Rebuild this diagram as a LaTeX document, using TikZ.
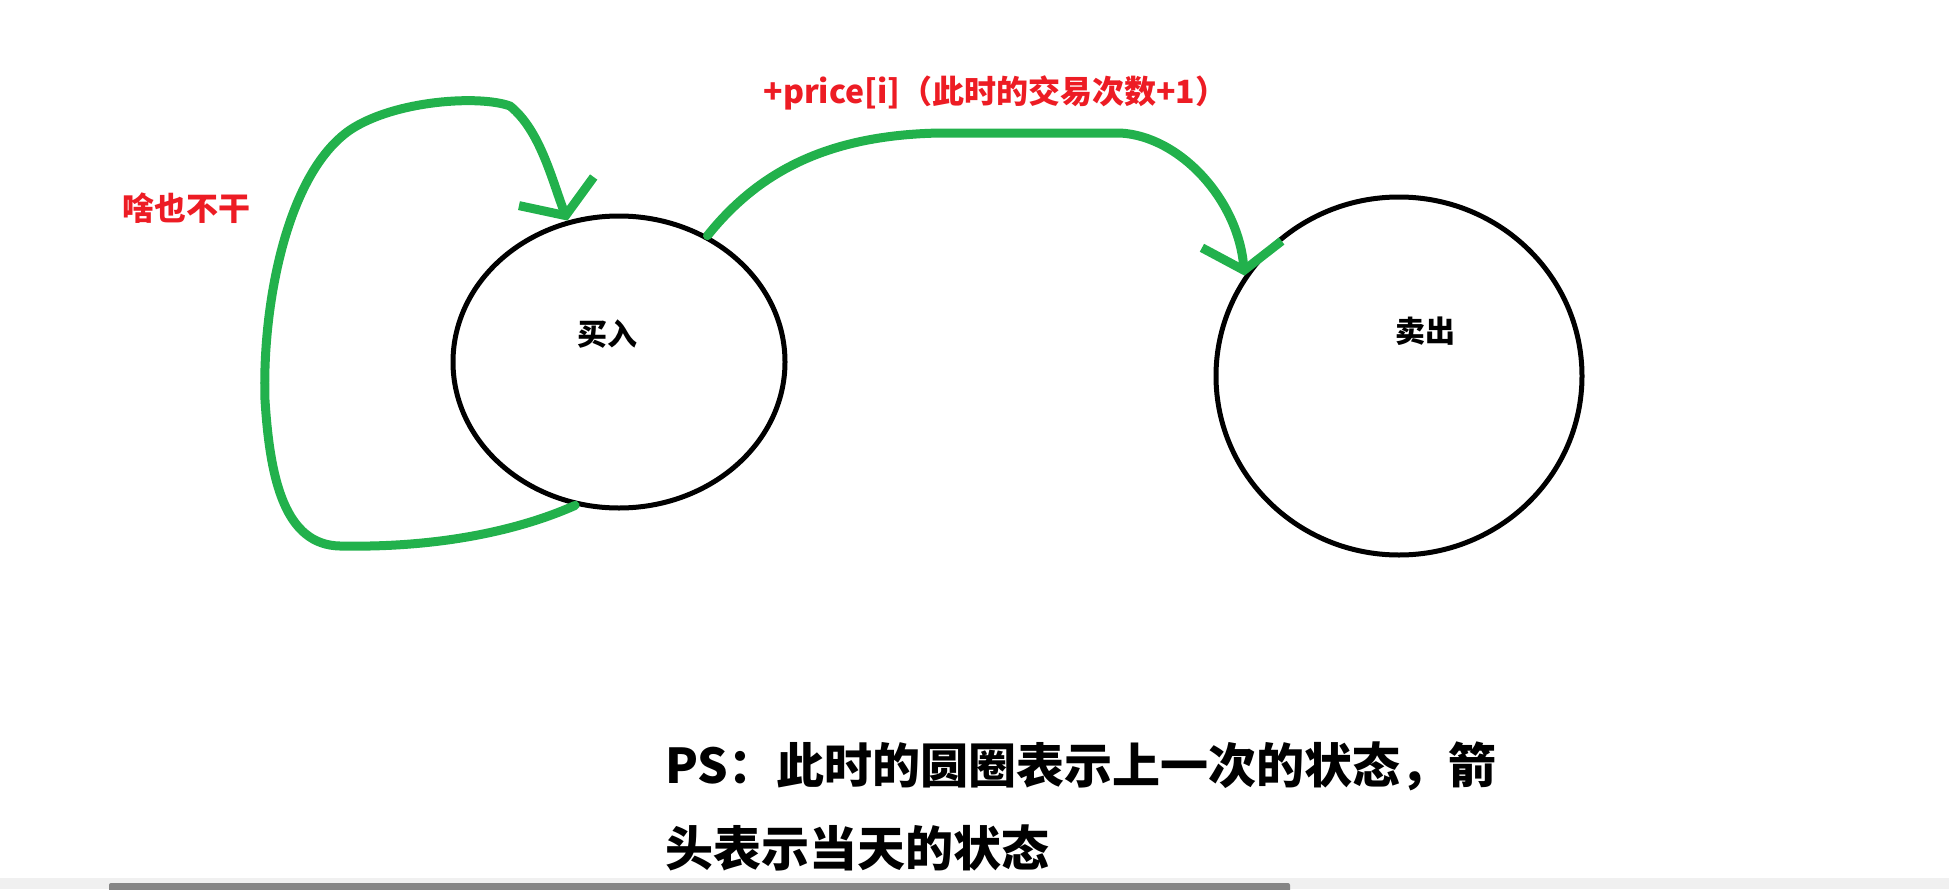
\documentclass[tikz,border=0pt]{standalone}
\usepackage{fontspec}
\usetikzlibrary{shapes.geometric,arrows.meta}
\newfontfamily\cjk{Noto Sans CJK SC}
\definecolor{paintgreen}{RGB}{34,177,76}
\definecolor{paintred}{RGB}{237,28,36}
\definecolor{barfill}{RGB}{240,240,240}
\definecolor{bardark}{RGB}{133,133,133}

\begin{document}
\begin{tikzpicture}[x=1pt,y=-1pt,
  state/.style={draw, line width=5pt, ellipse, inner sep=0pt},
  move/.style={paintgreen, line width=9pt, line cap=round, line join=round,
    -{Straight Barb[length=26pt,width=80pt]}},
  word/.style={font=\cjk\bfseries\fontsize{30}{36}\selectfont},
  note/.style={paintred, font=\cjk\bfseries\fontsize{32}{38}\selectfont}]
  \useasboundingbox (0,0) rectangle (1949,889);

  \node[state, minimum width=332pt, minimum height=292pt] (buy) at (619,362) {};
  \node[state, minimum width=366pt, minimum height=358pt] (sell) at (1399,376) {};
  \node[word] (buytext) at (607,334) {买入};
  \node[word] (selltext) at (1425,331) {卖出};

  \draw[move] (buy.-107) .. controls (520,530) and (440,548) .. (340,546)
    .. controls (285,545) and (270,480) .. (265,400)
    .. controls (262,310) and (285,175) .. (350,130)
    .. controls (395,100) and (480,95) .. (510,106)
    .. controls (540,130) and (552,180) .. (buy.110);
  \node[note] (idle) at (186,208) {啥也不干};

  \draw[move] (buy.55) .. controls (760,170) and (830,135) .. (940,133)
    -- (1120,133) .. controls (1180,136) and (1238,200) .. (sell.147);
  \node[note, anchor=west] (sold) at (760,93) {+price[i]（此时的交易次数+1）};

  \node[font=\cjk\bfseries\fontsize{48}{83}\selectfont, align=left, anchor=west, inner sep=0pt]
    (ps) at (665,806) {PS：此时的圆圈表示上一次的状态，箭\\头表示当天的状态};

  \fill[barfill] (0,878) rectangle (1949,889);
  \fill[bardark, rounded corners=2pt] (109,883) rectangle (1290,892);
\end{tikzpicture}
\end{document}
